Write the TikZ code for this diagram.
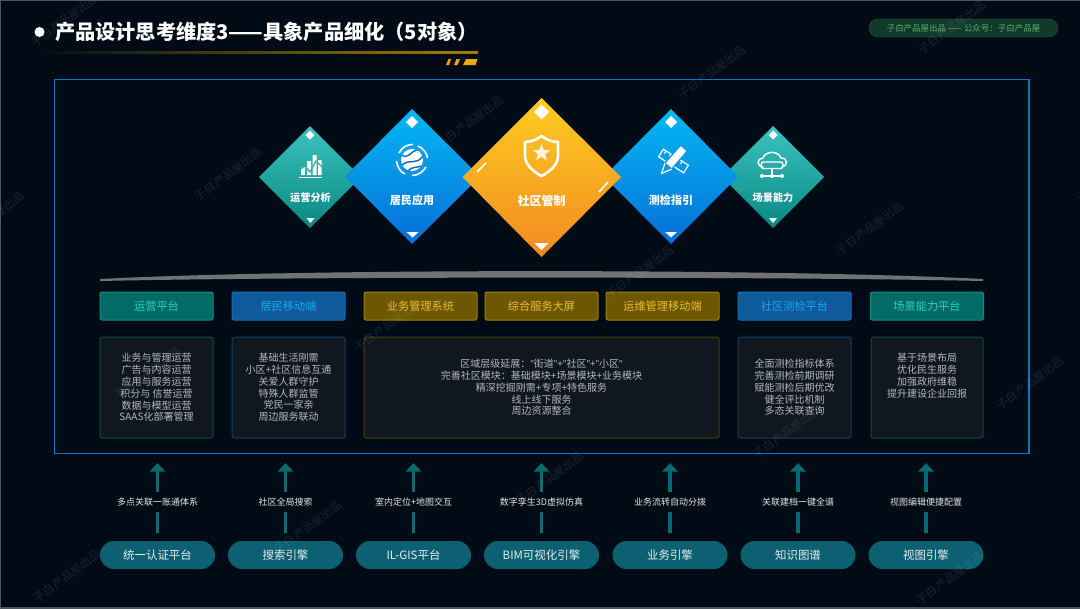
\documentclass[tikz,border=0pt]{standalone}
\usepackage{fontspec}
\setmainfont{Noto Sans CJK SC}
\newfontfamily\latinf{Liberation Sans}
\newcommand{\qm}{{\latinf\symbol{34}}}
\usetikzlibrary{shapes.geometric,arrows.meta,shadings}
\definecolor{bgc}{HTML}{010B16}
\definecolor{framec}{HTML}{0A78C8}
\definecolor{panelf}{HTML}{11171F}
\definecolor{tealf}{HTML}{036B66}\definecolor{tealb}{HTML}{0A8F88}\definecolor{tealt}{HTML}{22D2C4}\definecolor{tealp}{HTML}{0B4A4C}
\definecolor{bluef}{HTML}{0E5A9A}\definecolor{blueb}{HTML}{1170B8}\definecolor{bluet}{HTML}{10ACEE}\definecolor{bluep}{HTML}{0F3F68}
\definecolor{goldf}{HTML}{6E5703}\definecolor{goldb}{HTML}{A08000}\definecolor{goldt}{HTML}{E6BF2D}\definecolor{goldp}{HTML}{4A3D0A}
\definecolor{stemc}{HTML}{0B6878}\definecolor{pillc}{HTML}{0C6072}\definecolor{bodyt}{HTML}{B4B8BC}
\definecolor{barc}{HTML}{F0A800}
\definecolor{gtop}{HTML}{3AC3C0}\definecolor{gbot}{HTML}{0A8782}
\definecolor{tagf}{HTML}{123A2A}\definecolor{tagb}{HTML}{2F7A50}\definecolor{tagt}{HTML}{55B070}
\definecolor{dvl}{HTML}{707274}\definecolor{dvm}{HTML}{C8CACC}
\tikzset{
  every node/.style={inner sep=0pt,outer sep=0pt,align=center},
  head/.style={minimum width=84.75pt,minimum height=21pt,rounded corners=1.5pt,line width=.75pt,font=\fontsize{8.4}{10}\selectfont},
  headteal/.style={head,fill=tealf,draw=tealb,text=tealt},
  headblue/.style={head,fill=bluef,draw=blueb,text=bluet},
  headgold/.style={head,fill=goldf,draw=goldb,text=goldt},
  panel/.style={fill=panelf,rounded corners=2pt,line width=.75pt},
  bodytext/.style={text=bodyt,font=\fontsize{7.5}{8.85}\selectfont},
  dialabel/.style={text=white,font=\bfseries\fontsize{#1}{#1}\selectfont},
  pillbox/.style={fill=pillc,text=white!88!pillc,rounded corners=10.5pt,minimum width=86.25pt,minimum height=21pt,font=\fontsize{8.6}{10}\selectfont},
  caption/.style={text=white!90!black,minimum height=15pt,font=\fontsize{6.75}{8}\selectfont},
  stem/.style={draw=stemc,line width=2.6pt},
  mark wm/.style={text=white,opacity=.10,rotate=37,font=\fontsize{8.5}{10}\selectfont},
  whiteline/.style={draw=white,line width=1.2pt},
}
\begin{document}
\begin{tikzpicture}[x=.75pt,y=-.75pt]
\useasboundingbox (0,0) rectangle (1080,608);
\fill[bgc] (0,0) rectangle (1080,608);
\draw[draw=white!30!bgc,line width=1.2pt] (1080,608) -- (0,608) -- (0,0) -- (1080,0);
% title
\fill[white] (39.5,32) circle[radius=5];
\node[anchor=west,text=white,font=\bfseries\fontsize{15.15}{17}\selectfont] (title) at (55,32) {产品设计思考维度3——具象产品细化（5对象）};
\shade[left color=bgc,right color=goldb] (34.5,51.6) rectangle (478,53);
\fill[barc] (446,65) -- (448.5,59) -- (451,59) -- (449,65) -- cycle;
\fill[barc] (454,65) -- (456.5,59) -- (460,59) -- (457.5,65) -- cycle;
\fill[barc] (463,65) -- (466,59) -- (477.5,59) -- (475.5,65) -- cycle;
% top right tag
\node[fill=tagf,draw=tagb,densely dotted,line width=.5pt,rounded corners=6.7pt,minimum width=141.75pt,minimum height=13.5pt,text=tagt,font=\fontsize{6.35}{7}\selectfont] (tag) at (963.5,28) {子白产品屋出品 —— 公众号：子白产品屋};
% frame
\draw[framec,line width=1.1pt] (54.5,79.5) rectangle (1029,453.5);
% diamonds
\shade[top color=gtop,bottom color=gbot] (259,177) -- (310,126) -- (361,177) -- (310,228) -- cycle;
\shade[top color=gtop,bottom color=gbot] (722,177) -- (773,126) -- (824,177) -- (773,228) -- cycle;
\shade[top color={rgb,255:red,4;green,184;blue,243},bottom color={rgb,255:red,6;green,110;blue,216}] (345,176.5) -- (412,109) -- (480,176.5) -- (412,244) -- cycle;
\shade[top color={rgb,255:red,4;green,184;blue,243},bottom color={rgb,255:red,6;green,110;blue,216}] (604,176.5) -- (671,109) -- (738,176.5) -- (671,244) -- cycle;
\shade[top color={rgb,255:red,255;green,204;blue,32},middle color={rgb,255:red,255;green,196;blue,40},bottom color={rgb,255:red,242;green,138;blue,34}] (462.5,177) -- (541.5,98) -- (621,177) -- (541.5,257) -- cycle;
% white marks
\foreach \x/\y/\r in {310/135/4.5,773/135/4.5,412/122/6,671/122/6,541.5/112/7.5}
  \fill[white] (\x-\r,\y) -- (\x,\y-\r) -- (\x+\r,\y) -- (\x,\y+\r) -- cycle;
\foreach \x/\y/\w/\h in {310.5/218/4/5,773/218/4/5,412.5/232/6/5.5,671/232/6/5.5,541.5/243/7/7}
  \fill[white] (\x-\w,\y) -- (\x+\w,\y) -- (\x,\y+\h) -- cycle;
\draw[whiteline] (477,172) -- (486,163);
\draw[whiteline] (599,192) -- (608,182);
% diamond labels
\node[dialabel=7.6] (d1) at (310.5,198) {运营分析};
\node[dialabel=8.3] (d2) at (412,200.5) {居民应用};
\node[dialabel=9] (d3) at (541.5,200.5) {社区管制};
\node[dialabel=8.3] (d4) at (671,200.5) {测检指引};
\node[dialabel=7.6] (d5) at (773,198) {场景能力};
% icon: chart
\fill[white] (301,167) rectangle (305,175) (307,161) rectangle (311,175) (312.5,155) rectangle (316.5,175) (318,160) rectangle (321.5,175);
\draw[white,line width=.9pt] (299,177.5) -- (322,177.5);
\draw[gtop!70!gbot,line width=1pt] (299,170) -- (305,166) -- (310,172) -- (316,161) -- (322,167);
% icon: globe
\fill[white] (412,160) circle[radius=11];
\draw[cyan!45!blue,line width=1.1pt] (402,155) .. controls (408,160) and (412,150) .. (417,150);
\draw[cyan!45!blue,line width=1.1pt] (402,165) .. controls (410,158) and (416,166) .. (423,156);
\draw[cyan!45!blue,line width=1.1pt] (408,171) .. controls (412,166) and (418,168) .. (421,166);
\draw[white,line width=1.2pt] (399,153) .. controls (402,147) and (408,144) .. (413,144.5);
\draw[white,line width=1.2pt] (418,146) .. controls (423,148) and (427,153) .. (427.5,158);
\draw[white,line width=1.2pt] (426,167) .. controls (423,172) and (418,175.5) .. (412,175.5);
\draw[white,line width=1.2pt] (405,174) .. controls (400,172) and (397,166) .. (396.5,161);
% icon: shield
\draw[white,line width=2pt,line join=round] (541.5,136) .. controls (547,140) and (552,142) .. (558,142) -- (558,156) .. controls (558,165) and (549,172) .. (541.5,176) .. controls (534,172) and (525,165) .. (525,156) -- (525,142) .. controls (531,142) and (536,140) .. (541.5,136) -- cycle;
\node[star,star points=5,star point ratio=2.3,fill=white!88!orange,minimum size=13.5pt] (shieldstar) at (541.5,153) {};
% icon: ruler and pencil
\draw[white,line width=.9pt,line join=round] (663.4,149.2) -- (658.6,156.8) -- (683.6,172.8) -- (688.4,165.2) -- cycle;
\draw[white,line width=.8pt] (666,151) -- (664.5,153.5) (671,154) -- (669.5,156.5) (677,158) -- (675.5,160.5) (682,161.5) -- (680.5,164);
\fill[white,draw={rgb,255:red,5;green,150;blue,230},line width=.9pt] (671.6,169.2) -- (687.3,151) -- (680.7,145) -- (665,163) -- cycle;
\draw[white,line width=.9pt,line join=round] (671.6,169.2) -- (661.5,173.5) -- (665,163);
% icon: cloud
\draw[white,line width=1.1pt,line cap=round] (763,167) .. controls (756,166) and (757,158) .. (763,158) .. controls (765,151) and (778,150) .. (781,158) .. controls (788,158) and (788,166) .. (782,167);
\draw[white,line width=1.1pt,rounded corners=2pt] (761,162) rectangle (783,168.5);
\draw[white,line width=1pt] (772,168.5) -- (772,176) (763,176) -- (781,176);
\fill[white] (762,176) circle[radius=2] (772,176) circle[radius=2] (782,176) circle[radius=2];
% divider arc
\shade[left color=dvl,middle color=dvm,right color=dvl] (100,279) -- (100,281) .. controls (300,276.5) and (780,276.5) .. (983,281) -- (983,279) .. controls (780,268.5) and (300,268.5) .. (100,279) -- cycle;
% headers
\node[headteal] (h1) at (156.5,306) {运营平台};
\node[headblue] (h2) at (288.5,306) {居民移动端};
\node[headgold] (h3) at (420.5,306) {业务管理系统};
\node[headgold] (h4) at (541.5,306) {综合服务大屏};
\node[headgold] (h5) at (662.5,306) {运维管理移动端};
\node[headblue] (h6) at (794.5,306) {社区测检平台};
\node[headteal] (h7) at (927,306) {场景能力平台};
% panels
\draw[panel,draw=tealp] (100,337) rectangle (213,438);
\draw[panel,draw=bluep] (232,337) rectangle (345,438);
\draw[panel,draw=goldp] (364,337) rectangle (719,438);
\draw[panel,draw=bluep] (738,337) rectangle (851,438);
\draw[panel,draw=tealp] (871,337) rectangle (983,438);
\node[bodytext] (b1) at (156.5,387.5) {业务与管理运营\\广告与内容运营\\应用与服务运营\\积分与 信誉运营\\数据与模型运营\\SAAS化部署管理};
\node[bodytext] (b2) at (288.5,387.5) {基础生活刚需\\小区+社区信息互通\\关爱人群守护\\特殊人群监管\\党民一家亲\\周边服务联动};
\node[bodytext] (b3) at (541.5,387.5) {区域层级延展：\qm 街道\qm +\qm 社区\qm +\qm 小区\qm \\完善社区模块：基础模块+场景模块+业务模块\\精深挖掘刚需+专项+特色服务\\线上线下服务\\周边资源整合};
\node[bodytext] (b4) at (794.5,387.5) {全面测检指标体系\\完善测检前期调研\\赋能测检后期优改\\健全评比机制\\多态关联查询};
\node[bodytext] (b5) at (927,375.5) {基于场景布局\\优化民生服务\\加强政府维稳\\提升建设企业回报};
% bottom row
\foreach \i/\x/\p/\c in {
  1/157.5/统一认证平台/多点关联一账通体系,
  2/285.5/搜索引擎/社区全局搜索,
  3/413.5/IL-GIS平台/室内定位+地图交互,
  4/541.5/BIM可视化引擎/数字孪生3D虚拟仿真,
  5/670/业务引擎/业务流转自动分拨,
  6/798/知识图谱/关联建档一键全谱,
  7/926/视图引擎/视图编辑便捷配置}{
  \node[pillbox] (p\i) at (\x,555) {\p};
  \node[caption] (c\i) at (\x,502) {\c};
  \coordinate (t\i) at (\x,463);
  \draw[stem,shorten <=6pt] (p\i.north) -- (c\i.south);
  \draw[stem,-{Triangle[length=6.5pt,width=11.5pt]}] (c\i.north) -- (t\i);
}
% watermarks
\foreach \n/\x/\y in {1/65/20,2/228/174,3/470/122,4/712/72,5/952/27,6/870/228,7/640/272,8/388/325,9/148/373,10/787/432,11/1030/383,12/550/478,13/308/527,14/950/578,15/-9/218,16/67/576,17/1110/175}
  \node[mark wm] (w\n) at (\x,\y) {子白产品屋出品};
\end{tikzpicture}
\end{document}
